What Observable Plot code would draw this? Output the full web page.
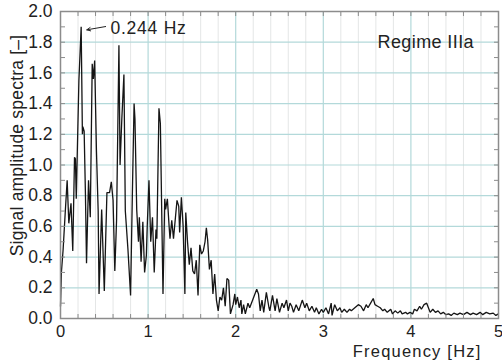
<!DOCTYPE html>
<html>
<head>
<meta charset="utf-8">
<script src="https://cdn.jsdelivr.net/npm/d3@7"></script>
<script src="https://cdn.jsdelivr.net/npm/@observablehq/plot@0.6"></script>
<style>
  html, body { margin: 0; padding: 0; background: #fff; }
  #chart svg { display: block; overflow: visible; }
  #chart .xl text { letter-spacing: 1.2px; }
  #chart .pk text { letter-spacing: 0.75px; }
  #chart .rg text { letter-spacing: 0.4px; }
  #chart .yl text { letter-spacing: 0.2px; }
</style>
</head>
<body>
<div id="chart"></div>
<script>
// Spectrum samples
const freq = [
  0.00, 0.01, 0.03, 0.055, 0.076, 0.095, 0.12, 0.14, 0.16, 0.17, 0.18, 0.21, 0.236, 0.25, 0.255, 0.27, 0.285, 0.297,
  0.32, 0.34, 0.362, 0.375, 0.39, 0.41, 0.43, 0.44, 0.47, 0.50, 0.53, 0.56, 0.58, 0.60, 0.62, 0.64, 0.667,
  0.68, 0.70, 0.724, 0.74, 0.77, 0.80, 0.82, 0.84, 0.85, 0.87, 0.89, 0.90, 0.92, 0.94, 0.96, 0.98, 0.99,
  1.01, 1.03, 1.05, 1.07, 1.09, 1.10, 1.124, 1.14, 1.17, 1.19, 1.20, 1.22, 1.24, 1.25, 1.27, 1.29, 1.33,
  1.35, 1.36, 1.38, 1.40, 1.42, 1.43, 1.45, 1.47, 1.49, 1.51, 1.53, 1.55, 1.57, 1.59, 1.61, 1.63, 1.65,
  1.665, 1.68, 1.70, 1.72, 1.74, 1.76, 1.78, 1.80, 1.82, 1.84, 1.86, 1.88, 1.90, 1.92, 1.94, 1.97, 1.99,
  2.00, 2.02, 2.04, 2.06, 2.07, 2.09, 2.11, 2.14, 2.16, 2.20, 2.24, 2.26, 2.28, 2.30, 2.32, 2.35, 2.38,
  2.39, 2.42, 2.45, 2.47, 2.50, 2.53, 2.55, 2.58, 2.60, 2.62, 2.64, 2.66, 2.69, 2.72, 2.76, 2.79, 2.81,
  2.84, 2.87, 2.90, 2.92, 2.95, 2.98, 3.00, 3.03, 3.06, 3.09, 3.10, 3.13, 3.16, 3.19, 3.21, 3.24, 3.27,
  3.30, 3.32, 3.36, 3.40, 3.43, 3.46, 3.49, 3.51, 3.54, 3.57, 3.59, 3.62, 3.65, 3.68, 3.70, 3.73, 3.77,
  3.79, 3.82, 3.85, 3.88, 3.90, 3.94, 3.96, 3.99, 4.02, 4.04, 4.07, 4.10, 4.12, 4.15, 4.18, 4.20, 4.22,
  4.25, 4.28, 4.31, 4.34, 4.37, 4.40, 4.43, 4.46, 4.49, 4.53, 4.56, 4.60, 4.64, 4.68, 4.71, 4.75, 4.79,
  4.82, 4.86, 4.90, 4.94, 4.97, 5.00
];
const amplitude = [
  0.08, 0.30, 0.45, 0.70, 0.90, 0.62, 0.75, 0.44, 1.05, 1.04, 0.78, 1.55, 1.90, 1.20, 1.25, 1.22, 0.80, 0.36,
  0.90, 0.66, 1.66, 1.56, 1.68, 1.10, 0.70, 0.16, 0.71, 0.18, 0.82, 0.82, 0.89, 0.77, 0.31, 0.64, 1.78,
  1.00, 1.30, 1.59, 0.70, 0.45, 0.15, 0.80, 1.40, 1.30, 0.71, 0.50, 0.66, 0.37, 0.63, 0.30, 0.41, 0.60,
  0.90, 0.50, 0.66, 0.30, 0.58, 0.52, 1.37, 1.27, 0.16, 0.78, 0.71, 0.78, 0.60, 0.52, 0.64, 0.52, 0.77,
  0.73, 0.56, 0.79, 0.60, 0.16, 0.69, 0.50, 0.35, 0.46, 0.31, 0.29, 0.38, 0.15, 0.48, 0.42, 0.44, 0.50,
  0.59, 0.51, 0.32, 0.38, 0.16, 0.29, 0.12, 0.05, 0.14, 0.12, 0.20, 0.08, 0.26, 0.25, 0.03, 0.09, 0.16,
  0.09, 0.14, 0.07, 0.12, 0.03, 0.09, 0.03, 0.10, 0.07, 0.13, 0.19, 0.16, 0.05, 0.12, 0.04, 0.17, 0.07,
  0.05, 0.15, 0.05, 0.13, 0.04, 0.10, 0.07, 0.12, 0.05, 0.10, 0.08, 0.04, 0.09, 0.05, 0.12, 0.07, 0.10,
  0.05, 0.08, 0.04, 0.07, 0.03, 0.06, 0.04, 0.07, 0.03, 0.10, 0.02, 0.09, 0.05, 0.07, 0.04, 0.06, 0.04,
  0.06, 0.05, 0.07, 0.09, 0.08, 0.05, 0.09, 0.07, 0.10, 0.13, 0.09, 0.08, 0.07, 0.05, 0.06, 0.04, 0.06,
  0.03, 0.05, 0.035, 0.05, 0.03, 0.04, 0.03, 0.04, 0.03, 0.06, 0.05, 0.08, 0.06, 0.09, 0.10, 0.07, 0.04,
  0.06, 0.04, 0.05, 0.03, 0.04, 0.025, 0.03, 0.02, 0.035, 0.025, 0.035, 0.025, 0.04, 0.025, 0.035, 0.025, 0.04,
  0.025, 0.04, 0.03, 0.035, 0.02, 0.03
];

// Axis ticks
const xTickLabels = [0, 1, 2, 3, 4, 5];
const yTickLabels = [0, 0.2, 0.4, 0.6, 0.8, 1.0, 1.2, 1.4, 1.6, 1.8, 2.0];
const xMinorTicks = d3.range(0, 26).map(i => i / 5);
const yMinorTicks = d3.range(0, 21).map(i => i / 10);
const xMajorGrid = [1, 2, 3, 4];
const xMinorGrid = xMinorTicks.filter(v => Math.abs(v - Math.round(v)) > 1e-6);
const yMajorGrid = [0.2, 0.4, 0.6, 0.8, 1.0, 1.2, 1.4, 1.6, 1.8];

// Texts
const xLabel = "Frequency [Hz]";
const yLabel = "Signal amplitude spectra [–]";
const peak = [{f: 0.244, a: 1.875, tf: 0.515, ta: 1.902, lf: 0.571, la: 1.889, text: "0.244 Hz"}];
const regimePos = [{f: 4.72, a: 1.80, text: "Regime IIIa"}];

const data = freq.map((f, i) => ({f, a: amplitude[i]}));

const font = "'Liberation Sans', Arial, Helvetica, sans-serif";
const frameColor = "#8c8c8c";
const gridMajor = "#b3d9da";
const gridMinor = "#e4e6e6";

const chart = Plot.plot({
  width: 502,
  height: 360,
  marginLeft: 60,
  marginRight: 4,
  marginTop: 11,
  marginBottom: 42,
  style: {fontFamily: font, fontSize: "17px", color: "#222", background: "#fff"},
  x: {domain: [0, 5]},
  y: {domain: [0, 2]},
  marks: [
    Plot.gridX(xMinorGrid, {stroke: gridMinor, strokeOpacity: 1, strokeWidth: 1}),
    Plot.gridX(xMajorGrid, {stroke: gridMajor, strokeOpacity: 1, strokeWidth: 1.2}),
    Plot.gridY(yMajorGrid, {stroke: gridMajor, strokeOpacity: 1, strokeWidth: 1.2}),
    Plot.line(data, {x: "f", y: "a", stroke: "#151515", strokeWidth: 1.3, strokeLinejoin: "miter"}),
    Plot.frame({stroke: frameColor, strokeWidth: 1.5}),
    // inward ticks
    Plot.axisX(xMinorTicks, {anchor: "bottom", tickSize: -4, tickFormat: () => "", stroke: frameColor, label: null}),
    Plot.axisX(xMinorTicks, {anchor: "top", tickSize: -4, tickFormat: () => "", stroke: frameColor, label: null}),
    Plot.axisY(yMinorTicks, {anchor: "left", tickSize: -5, tickFormat: () => "", stroke: frameColor, label: null}),
    Plot.axisY(yMinorTicks, {anchor: "right", tickSize: -5, tickFormat: () => "", stroke: frameColor, label: null}),
    // tick labels
    Plot.axisX(xTickLabels, {anchor: "bottom", tickSize: 0, tickPadding: 7, tickFormat: d3.format("d"), fontSize: 16.5, fill: "#222", label: null}),
    Plot.axisY(yTickLabels, {anchor: "left", tickSize: 0, tickPadding: 8, tickFormat: d3.format(".1f"), fontSize: 17.5, fill: "#222", label: null}),
    // axis titles
    Plot.text([xLabel], {frameAnchor: "bottom-right", text: d => d, textAnchor: "end", lineAnchor: "middle", dx: -17, dy: 33, fontSize: 16.5, fill: "#222", className: "xl"}),
    Plot.text([yLabel], {frameAnchor: "left", text: d => d, rotate: -90, textAnchor: "middle", lineAnchor: "middle", dx: -43.5, dy: -19.5, fontSize: 17.5, fill: "#222", className: "yl"}),
    // annotations
    Plot.arrow(peak, {x1: "tf", y1: "ta", x2: "f", y2: "a", insetEnd: 5, headLength: 6, headAngle: 50, stroke: "#222", strokeWidth: 1}),
    Plot.text(peak, {x: "lf", y: "la", text: "text", textAnchor: "start", lineAnchor: "middle", fontSize: 17.5, fill: "#222", className: "pk"}),
    Plot.text(regimePos, {x: "f", y: "a", text: "text", textAnchor: "end", lineAnchor: "middle", fontSize: 18, fill: "#222", className: "rg"})
  ]
});
document.getElementById("chart").appendChild(chart);
</script>
</body>
</html>
